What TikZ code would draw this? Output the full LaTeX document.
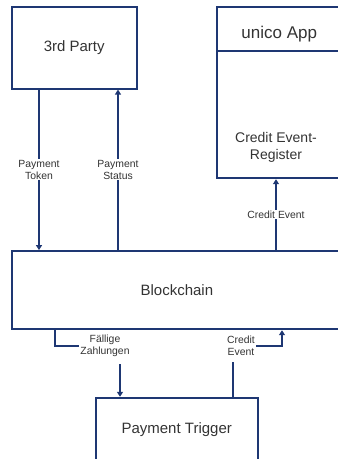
\documentclass[tikz,border=0pt]{standalone}
\usepackage{fontspec}
\setmainfont{Liberation Sans}
\usepackage{xcolor}
\usetikzlibrary{arrows.meta}

\definecolor{boxblue}{RGB}{30,55,115}
\definecolor{txtgray}{RGB}{51,51,51}

\tikzset{
  box/.style={draw=boxblue, line width=1.8pt, rectangle, inner sep=0pt, text=txtgray, font=\fontsize{15}{18}\selectfont},
  link/.style={draw=boxblue, line width=1.8pt},
  tip/.style={-{Triangle[length=5pt,width=6pt]}},
  lbl/.style={fill=white, text=txtgray, align=center, inner sep=1pt, font=\fontsize{10.4}{12}\selectfont},
}

\begin{document}
\begin{tikzpicture}[x=1pt,y=-1pt]
\useasboundingbox (0,0) rectangle (338,459);
\clip (0,0) rectangle (338,459);

% boxes
\node [box, minimum width=125pt, minimum height=81.4pt] (party) at (74.2,48) {3rd Party};
\node [box, minimum width=125.3pt, minimum height=43.4pt] (app) at (279.3,29) {};
\node [text=txtgray, font=\fontsize{17}{20}\selectfont] (appTitle) at (279.3,34.5) {unico App};
\node [box, minimum width=125.3pt, minimum height=127.6pt] (appbody) at (279.3,114.5) {};
\node [text=txtgray, align=center, font=\fontsize{14}{17}\selectfont] (register) at (276,147.5) {Credit Event-\\Register};
\node [box, minimum width=330.3pt, minimum height=78.3pt] (chain) at (176.85,290.15) {Blockchain};
\node [box, minimum width=162pt, minimum height=64.6pt] (trigger) at (176.7,430) {Payment Trigger};

% x positions of the connectors
\coordinate (tok) at (39,0);
\coordinate (stat) at (118,0);
\coordinate (ce) at (276,0);
\coordinate (fa) at (55,0);
\coordinate (fb) at (120,0);
\coordinate (ev) at (233,0);
\coordinate (cb) at (282,0);

\draw [link,tip] (tok |- party.south) -- node [lbl] {Payment\\Token} (tok |- chain.north);
\draw [link,tip] (stat |- chain.north) -- node [lbl] {Payment\\Status} (stat |- party.south);
\draw [link,tip] (ce |- chain.north) -- node [lbl] {Credit Event} (ce |- appbody.south);

% lower connectors
\node [lbl, fill=none, minimum height=36pt] (dueLbl) at (105,346) {Fällige\\Zahlungen};
\draw [link] (fa |- chain.south) |- (dueLbl.west);
\draw [link,tip] (dueLbl.south -| fb) -- (fb |- trigger.north);

\node [lbl, fill=none, minimum height=32pt] (evLbl) at (241,346) {Credit\\Event};
\draw [link] (ev |- trigger.north) -- (ev |- evLbl.south);
\draw [link,tip] (evLbl.east) -| (cb |- chain.south);
\end{tikzpicture}
\end{document}
